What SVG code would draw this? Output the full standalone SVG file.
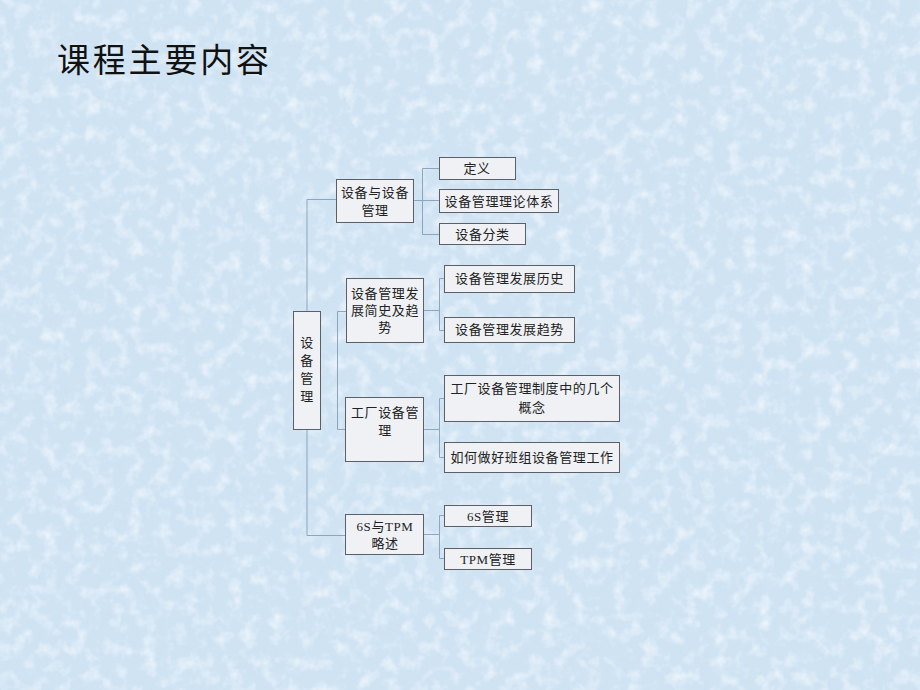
<svg xmlns="http://www.w3.org/2000/svg" width="920" height="690" viewBox="0 0 920 690">
<defs>
<filter id="tex" x="0" y="0" width="100%" height="100%">
<feTurbulence type="fractalNoise" baseFrequency="0.07" numOctaves="3" seed="7" result="n"/>
<feColorMatrix in="n" type="matrix" values="0 0 0 0 0.93  0 0 0 0 0.96  0 0 0 0 1  0 0 0 2.2 -1.0"/>
</filter>
<filter id="tex2" x="0" y="0" width="100%" height="100%">
<feTurbulence type="fractalNoise" baseFrequency="0.05" numOctaves="2" seed="3" result="n"/>
<feColorMatrix in="n" type="matrix" values="0 0 0 0 0.62  0 0 0 0 0.76  0 0 0 0 0.9  0 0 0 2 -0.95"/>
</filter>
<style>
.box{fill:#eff1f5;stroke:#5c5f66;stroke-width:1}
.ln{fill:none;stroke:#8ea5bd;stroke-width:1}
.t{font-family:"Liberation Serif","Noto Sans CJK SC",serif;font-size:13px;fill:#222;text-anchor:middle;dominant-baseline:central;letter-spacing:0.6px}
.title{font-family:"Noto Sans CJK SC",sans-serif;font-size:33px;fill:#111;letter-spacing:2.8px}
</style>
</defs>
<rect width="920" height="690" fill="#cfe3f3"/>
<rect width="920" height="690" filter="url(#tex2)" opacity="0.6"/>
<rect width="920" height="690" filter="url(#tex)" opacity="0.7"/>
<text class="title" x="57" y="72">课程主要内容</text>
<g id="connectors">
<path class="ln" d="M307 311 V199.5 H336"/>
<path class="ln" d="M307 429 V535.5 H346"/>
<path class="ln" d="M337.5 311.5 V429.5 H345 M337.5 311.5 H346"/>
<path class="ln" d="M413 200.5 H439 M422.5 168.5 V234.5 M422.5 168.5 H439 M422.5 234.5 H439"/>
<path class="ln" d="M423 310.5 H439.5 M439.5 278.5 V330.5 M439.5 278.5 H444 M439.5 330.5 H444"/>
<path class="ln" d="M423 429.5 H439.5 M439.5 398.5 V457.5 M439.5 398.5 H444 M439.5 457.5 H444"/>
<path class="ln" d="M423 534.5 H439.5 M439.5 515.5 V558.5 M439.5 515.5 H444 M439.5 558.5 H444"/>
</g>
<g id="root">
<rect class="box" x="293.5" y="311.5" width="27" height="118"/>
<text class="t" x="307" y="342">设</text>
<text class="t" x="307" y="360">备</text>
<text class="t" x="307" y="378">管</text>
<text class="t" x="307" y="396">理</text>
</g>
<g id="n1">
<rect class="box" x="336.5" y="179.5" width="77" height="43"/>
<text class="t" x="375" y="192">设备与设备</text>
<text class="t" x="375" y="210">管理</text>
</g>
<g id="n2">
<rect class="box" x="346.5" y="278.5" width="77" height="64"/>
<text class="t" x="385" y="293">设备管理发</text>
<text class="t" x="385" y="310">展简史及趋</text>
<text class="t" x="385" y="327">势</text>
</g>
<g id="n3">
<rect class="box" x="345.5" y="397.5" width="78" height="64"/>
<text class="t" x="385" y="412">工厂设备管</text>
<text class="t" x="385" y="430">理</text>
</g>
<g id="n4">
<rect class="box" x="345.5" y="514.5" width="78" height="40"/>
<text class="t" x="385" y="526">6S与TPM</text>
<text class="t" x="385" y="543">略述</text>
</g>
<g id="l1"><rect class="box" x="439.5" y="157.5" width="76" height="22"/><text class="t" x="477" y="168.5">定义</text></g>
<g id="l2"><rect class="box" x="439.5" y="189.5" width="119" height="23"/><text class="t" x="499" y="201">设备管理理论体系</text></g>
<g id="l3"><rect class="box" x="439.5" y="223.5" width="86" height="21"/><text class="t" x="482.5" y="234">设备分类</text></g>
<g id="l4"><rect class="box" x="444.5" y="265.5" width="130" height="27"/><text class="t" x="509.5" y="278.5">设备管理发展历史</text></g>
<g id="l5"><rect class="box" x="444.5" y="317.5" width="130" height="25"/><text class="t" x="509.5" y="329.5">设备管理发展趋势</text></g>
<g id="l6"><rect class="box" x="444.5" y="375.5" width="175" height="46"/><text class="t" x="532" y="388">工厂设备管理制度中的几个</text><text class="t" x="532" y="407">概念</text></g>
<g id="l7"><rect class="box" x="444.5" y="442.5" width="175" height="30"/><text class="t" x="532" y="457.5">如何做好班组设备管理工作</text></g>
<g id="l8"><rect class="box" x="444.5" y="505.5" width="87" height="21"/><text class="t" x="488" y="516">6S管理</text></g>
<g id="l9"><rect class="box" x="444.5" y="548.5" width="87" height="21"/><text class="t" x="488" y="559">TPM管理</text></g>
</svg>
